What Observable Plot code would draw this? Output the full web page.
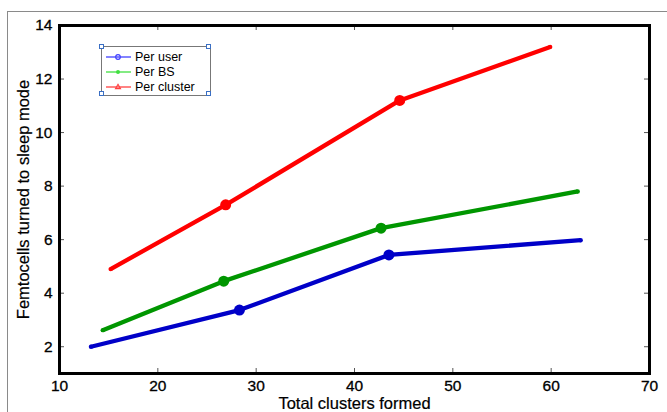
<!DOCTYPE html>
<html>
<head>
<meta charset="utf-8">
<script src="https://cdn.jsdelivr.net/npm/d3@7"></script>
<script src="https://cdn.jsdelivr.net/npm/@observablehq/plot@0.6"></script>
<style>
  body { margin: 0; background: #fff; }
  #wrap { position: relative; width: 667px; height: 412px; overflow: hidden; font-family: "Liberation Sans", Arial, sans-serif; }
  #outer { position: absolute; left: 7px; top: 11px; width: 700px; height: 500px; border-left: 1.5px solid #8a8a8a; border-top: 1.5px solid #8a8a8a; }
  #chart { position: absolute; left: 0; top: 0; }
  #chart svg text { font-size: 15.5px; fill: #000; stroke: #000; stroke-width: 0.3px; }
  #chart svg g[aria-label="x-axis label"] text { font-size: 16.5px; stroke-width: 0.2px; }
  #chart svg g[aria-label="y-axis label"] text { font-size: 16.5px; stroke-width: 0.2px; }
  #legend { position: absolute; left: 101px; top: 46px; width: 108px; height: 48px; border: 1.5px solid #777; background: #fff; font-size: 12.5px; color: #000; }
  .row { position: absolute; left: 4px; height: 14px; display: flex; align-items: center; }
  .row svg { margin-right: 4px; }
  .corner { position: absolute; width: 3px; height: 3px; border: 1px solid #3a6fc4; background: #fff; }
</style>
</head>
<body>
<div id="wrap">
  <div id="outer"></div>
  <div id="chart"></div>
  <div id="legend"></div>
</div>
<script>
const seriesNames = ["Per user", "Per BS", "Per cluster"];
const userX = [13.2, 28.3, 43.5, 63.0];
const userY = [2.0, 3.37, 5.43, 5.98];
const bsX = [14.4, 26.7, 42.7, 62.7];
const bsY = [2.62, 4.45, 6.43, 7.8];
const clusterX = [15.2, 26.9, 44.6, 59.9];
const clusterY = [4.9, 7.3, 11.2, 13.2];
const xTicks = [10, 20, 30, 40, 50, 60, 70];
const yTicks = [2, 4, 6, 8, 10, 12, 14];

const lineColors = ["#0000c8", "#009600", "#ff0000"];
const legendColors = ["#4040ff", "#40e040", "#ff4040"];

const toRows = (xs, ys, s) => xs.map((x, i) => ({x, y: ys[i], s, i}));
const data = [
  ...toRows(userX, userY, seriesNames[0]),
  ...toRows(bsX, bsY, seriesNames[1]),
  ...toRows(clusterX, clusterY, seriesNames[2])
];
const mid = data.filter(d => d.i === 1 || d.i === 2);
const ends = data.filter(d => d.i === 0 || d.i === 3);

const color = {domain: seriesNames, range: lineColors};

const chart = Plot.plot({
  width: 667,
  height: 412,
  marginLeft: 59,
  marginTop: 25,
  marginRight: 18,
  marginBottom: 39,
  style: {fontFamily: "Liberation Sans, Arial, sans-serif", fontSize: "15.5px", color: "#000", background: "transparent"},
  x: {domain: [10, 70]},
  y: {domain: [1, 14]},
  color,
  marks: [
    Plot.axisX({ticks: xTicks, tickSize: 0, tickPadding: 6, label: "Total clusters formed", labelAnchor: "center", labelArrow: "none", labelOffset: 35}),
    Plot.axisY({ticks: yTicks, tickSize: 0, tickPadding: 7, label: "Femtocells turned to sleep mode", labelAnchor: "center", labelArrow: "none", labelOffset: 42}),
    Plot.tickX(xTicks, {x: d => d, stroke: "#555", strokeWidth: 1, insetTop: 343}),
    Plot.tickX(xTicks, {x: d => d, stroke: "#555", strokeWidth: 1, insetBottom: 343}),
    Plot.tickY(yTicks, {y: d => d, stroke: "#555", strokeWidth: 1, insetRight: 585}),
    Plot.tickY(yTicks, {y: d => d, stroke: "#555", strokeWidth: 1, insetLeft: 585}),
    Plot.line(data, {x: "x", y: "y", z: "s", stroke: "s", strokeWidth: 4.3, strokeLinecap: "butt"}),
    Plot.dot(mid, {x: "x", y: "y", fill: "s", r: 5.5}),
    Plot.dot(ends, {x: "x", y: "y", fill: "s", r: 2.2}),
    Plot.frame({stroke: "#000", strokeWidth: 3})
  ]
});
document.getElementById("chart").appendChild(chart);

// legend
const leg = document.getElementById("legend");
[[-3,-3],[104,-3],[-3,44],[104,44]].forEach(([l,t]) => {
  const c = document.createElement("div");
  c.className = "corner"; c.style.left = l + "px"; c.style.top = t + "px";
  leg.appendChild(c);
});
const markerSvg = (i, col) => {
  let m = "";
  if (i === 0) m = `<circle cx="12" cy="5" r="2.3" fill="none" stroke="${col}" stroke-width="1.2"/>`;
  else if (i === 1) m = `<circle cx="12" cy="5" r="2" fill="${col}"/>`;
  else m = `<path d="M12,2.3 L14.5,6.6 L9.5,6.6Z" fill="none" stroke="${col}" stroke-width="1.1"/>`;
  return `<svg width="25" height="10"><line x1="0" y1="5" x2="25" y2="5" stroke="${col}" stroke-width="1.3"/>${m}</svg>`;
};
seriesNames.forEach((name, i) => {
  const r = document.createElement("div");
  r.className = "row";
  r.style.top = (3 + i * 15) + "px";
  r.innerHTML = markerSvg(i, legendColors[i]) + `<span>${name}</span>`;
  leg.appendChild(r);
});
</script>
</body>
</html>
